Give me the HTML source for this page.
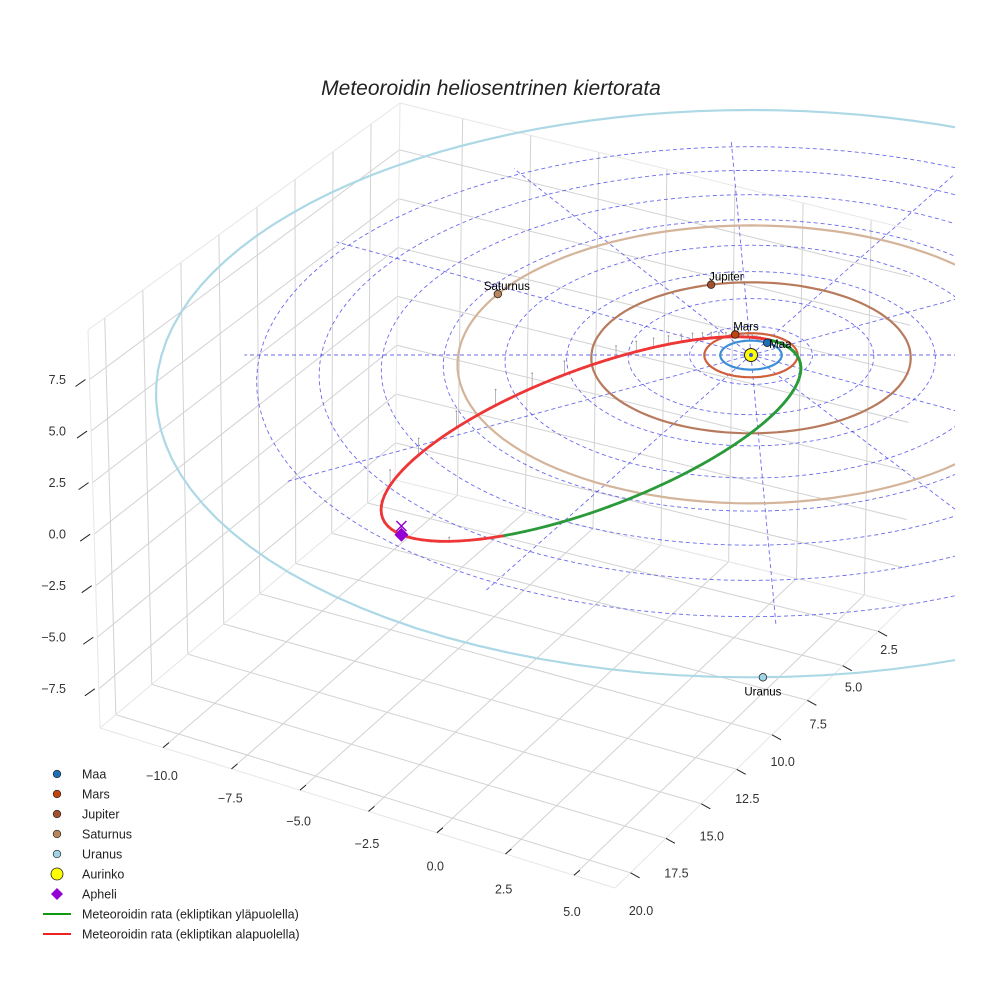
<!DOCTYPE html>
<html><head><meta charset="utf-8"><style>
html,body{margin:0;padding:0;background:#fff}
svg{display:block;font-family:"Liberation Sans",sans-serif}
</style></head><body>
<svg id="c" width="984" height="984" viewBox="0 0 984 984" xmlns="http://www.w3.org/2000/svg">
<text x="491" y="95" text-anchor="middle" font-size="21" font-style="italic" fill="#222">Meteoroidin heliosentrinen kiertorata</text>
<defs><clipPath id="clp"><rect x="0" y="0" width="955" height="984"/></clipPath></defs>
<g id="box"></g>
<g id="eclip" clip-path="url(#clp)"></g>
<g id="legend"></g>
</svg>
<script>
// ---- data ----
const xTicks=[-10,-7.5,-5,-2.5,0,2.5,5];
const yTicks=[2.5,5,7.5,10,12.5,15,17.5,20];
const zTicks=[-7.5,-5,-2.5,0,2.5,5,7.5];
const planetNames=['Maa','Mars','Jupiter','Saturnus','Uranus'];
const planetRadius=[1.0,1.52,5.2,9.54,19.2];
const planetAngle=[-58,-110,-105,-153,89];
const gridRadii=[2,4,6,8,10,12,14,16];
const gridAngles=[0,30,58,87.5,118,150,180,210,239,267.5,298,330];
const meteorQ=[1.2];          // perihelion distance (AU)
const meteorE=[0.853];        // eccentricity
const meteorPeri=[-46];       // perihelion longitude (deg)
const meteorNode=[123];       // node longitude (deg)
const meteorIncl=[8];         // inclination (deg)

const svg=document.getElementById('c');
const NS='http://www.w3.org/2000/svg';
function mk(tag,attrs,parent){const e=document.createElementNS(NS,tag);for(const k in attrs)e.setAttribute(k,attrs[k]);(parent||svg).appendChild(e);return e;}
const lerp=(a,b,t)=>[a[0]+(b[0]-a[0])*t,a[1]+(b[1]-a[1])*t];

// ---- box axes ----
const xmin=-12.3,xmax=6.5,ymin=0.6,ymax=21.1,zmin=-9.4,zmax=9.9;
const FL=[100,728],FC=[615,888],BR=[905,605],BL=[395,480],FLt=[88,330],BLt=[400,103],BRt=[912,230];
const sx=x=>(x-xmin)/(xmax-xmin), ty=y=>(ymax-y)/(ymax-ymin), tz=z=>(z-zmin)/(zmax-zmin);
function floorP(x,y){return lerp(lerp(FL,FC,sx(x)),lerp(BL,BR,sx(x)),ty(y));}
function leftP(y,z){return lerp(lerp(FL,BL,ty(y)),lerp(FLt,BLt,ty(y)),tz(z));}
function backP(x,z){return lerp(lerp(BL,BR,sx(x)),lerp(BLt,BRt,sx(x)),tz(z));}
const box=document.getElementById('box');
function ln(a,b,col,w,name){const e=mk('line',{x1:a[0],y1:a[1],x2:b[0],y2:b[1],stroke:col,'stroke-width':w},box);

return e;}
const gc='#d2d2d2';
xTicks.forEach(x=>{ln(floorP(x,ymax),floorP(x,ymin),gc,1,'x-gridline');ln(backP(x,zmin),backP(x,zmax),gc,1,'x-gridline');});
yTicks.forEach(y=>{ln(floorP(xmin,y),floorP(xmax,y),gc,1,'y-gridline');ln(leftP(y,zmin),leftP(y,zmax),gc,1,'y-gridline');});
zTicks.forEach(z=>{ln(leftP(ymax,z),leftP(ymin,z),gc,1,'z-gridline');ln(backP(xmin,z),backP(xmax,z),gc,1,'z-gridline');});
[[FL,FC],[FC,BR],[FL,FLt],[FLt,BLt],[BLt,BRt],[BL,BLt],[FL,BL],[BL,BR]].forEach(p=>ln(p[0],p[1],'#e6e6e6',1,'pane-edge'));
const lab=(x,y,t,anchor,name)=>{const e=mk('text',{x:x,y:y,'font-size':12.5,fill:'#333','text-anchor':anchor},box);e.textContent=t;

};
const fmt=v=>(v<0?'\u2212':'')+Math.abs(v).toFixed(1);
xTicks.forEach(x=>{const p=floorP(x,ymax);ln(p,[p[0]+6,p[1]-5],'#222',1,'x-tick');
 const f=(x+10)/15;const L=lerp([162,776],[572,912],f);lab(L[0],L[1]+4,fmt(x),'middle','x-tick-label');});
yTicks.forEach(y=>{const p=floorP(xmax,y);ln(p,[p[0]+9,p[1]+5],'#222',1,'y-tick');
 const f=(y-2.5)/17.5;const L=lerp([889,650],[641,911],f);lab(L[0],L[1]+4,fmt(y),'middle','y-tick-label');});
zTicks.forEach(z=>{const p=leftP(ymax,z);ln([p[0]-14,p[1]+7],[p[0]-4,p[1]],'#222',1,'z-tick');
 const f=(z+7.5)/15;const L=lerp([66,689],[66,380],f);lab(L[0],L[1]+4,fmt(z),'end','z-tick-label');});

// ---- ecliptic projection ----
const CX=751,CY=355,HS=30.7,VS=14.5,ZS=20,K=0.0071;
function proj(u,v,z){const f=1/(1-K*v);return [CX+HS*u*f,CY+VS*v*f-ZS*z*f];}
const ec=document.getElementById('eclip');
const rad=d=>d*Math.PI/180;
function circlePts(r){const p=[];for(let a=0;a<=360;a+=3)p.push(proj(r*Math.cos(rad(a)),r*Math.sin(rad(a)),0));return p;}
const pstr=p=>p.map(q=>q[0].toFixed(1)+','+q[1].toFixed(1)).join(' ');
gridRadii.forEach(r=>{const e=mk('polyline',{points:pstr(circlePts(r)),fill:'none',stroke:'#3a3ae6','stroke-opacity':0.75,'stroke-width':0.9,'stroke-dasharray':'4,3'},ec);

});
const gMax=gridRadii[gridRadii.length-1]+0.5;
gridAngles.forEach(a=>{const p=proj(gMax*Math.cos(rad(a)),gMax*Math.sin(rad(a)),0);const e=mk('line',{x1:CX,y1:CY,x2:p[0],y2:p[1],stroke:'#3a3ae6','stroke-opacity':0.75,'stroke-width':0.9,'stroke-dasharray':'4,3'},ec);

});
const ringCol=['#3c8fd6','#d0603c','#b87a5c','#d4b49a','#add8e6'];
const dotCol=['#1f6fb4','#c1440e','#a0522d','#b8865a','#9fd4e6'];
planetRadius.forEach((r,i)=>{const e=mk('polyline',{points:pstr(circlePts(r)),fill:'none',stroke:ringCol[i],'stroke-width':2.2},ec);

});

// meteor orbit
const q=meteorQ[0],ecc=meteorE[0],pl=meteorPeri[0],nd=meteorNode[0],inc=rad(meteorIncl[0]);
const pp=q*(1+ecc);
const pts=[];
for(let nu=-180;nu<=180;nu+=1){const r=pp/(1+ecc*Math.cos(rad(nu)));const phi=pl+nu;
 const z=-r*Math.sin(inc)*Math.sin(rad(phi-nd));pts.push({u:r*Math.cos(rad(phi)),v:r*Math.sin(rad(phi)),z:z});}
pts.forEach((p,i)=>{if(i%6!==0||p.z>=0)return;const a=proj(p.u,p.v,p.z),b=proj(p.u,p.v,0);
 const e=mk('line',{x1:a[0],y1:a[1],x2:b[0],y2:b[1],stroke:'#999','stroke-width':0.7},ec);
 
 
 const d=mk('circle',{cx:b[0],cy:b[1],r:0.9,fill:'#999'},ec);
 
 });
for(let i=0;i<pts.length-1;i++){const a=pts[i],b=pts[i+1];const up=(a.z+b.z)/2>=0;
 const A=proj(a.u,a.v,a.z),B=proj(b.u,b.v,b.z);
 const e=mk('line',{x1:A[0],y1:A[1],x2:B[0],y2:B[1],stroke:up?'#2a9a3a':'#ee3636','stroke-width':2.8,'stroke-linecap':'round'},ec);
 
 }
const Q=pp/(1-ecc),aphPhi=pl+180;const au=Q*Math.cos(rad(aphPhi)),av=Q*Math.sin(rad(aphPhi)),az=-Q*Math.sin(inc)*Math.sin(rad(aphPhi-nd));
const AP=proj(au,av,az),AX=proj(au,av,0);
let e=mk('path',{d:`M${AX[0]-5},${AX[1]-5}L${AX[0]+5},${AX[1]+5}M${AX[0]-5},${AX[1]+5}L${AX[0]+5},${AX[1]-5}`,stroke:'#9400d3','stroke-width':1.5},ec);


e=mk('path',{d:`M${AP[0]},${AP[1]-7}L${AP[0]+7},${AP[1]}L${AP[0]},${AP[1]+7}L${AP[0]-7},${AP[1]}Z`,fill:'#9400d3'},ec);


e=mk('circle',{cx:CX,cy:CY,r:6.5,fill:'#ffff00',stroke:'#222','stroke-width':1},ec);


e=mk('circle',{cx:CX,cy:CY,r:2,fill:'#3b5bd6'},ec);


const labOff=[[2,5,'start'],[-2,-4,'start'],[-2,-4,'start'],[-14,-4,'start'],[0,18,'middle']];
planetRadius.forEach((r,i)=>{const p=proj(r*Math.cos(rad(planetAngle[i])),r*Math.sin(rad(planetAngle[i])),0);
 const c=mk('circle',{cx:p[0],cy:p[1],r:3.8,fill:dotCol[i],stroke:'#222','stroke-width':0.8},ec);
 
 
 const t=mk('text',{x:p[0]+labOff[i][0],y:p[1]+labOff[i][1],'font-size':11.5,fill:'#000','text-anchor':labOff[i][2]},ec);t.textContent=planetNames[i];
 
 });

// ---- legend ----
const lg=document.getElementById('legend');
const legNames=['Maa','Mars','Jupiter','Saturnus','Uranus','Aurinko','Apheli','Meteoroidin rata (ekliptikan yläpuolella)','Meteoroidin rata (ekliptikan alapuolella)'];
legNames.forEach((n,i)=>{const y=774+i*20;let m;
 if(i<5){m=mk('circle',{cx:57,cy:y,r:3.8,fill:dotCol[i],stroke:'#222','stroke-width':0.7},lg);}
 else if(i===5){m=mk('circle',{cx:57,cy:y,r:6,fill:'#ffff00',stroke:'#222','stroke-width':0.8},lg);}
 else if(i===6){m=mk('path',{d:`M57,${y-6}L63,${y}L57,${y+6}L51,${y}Z`,fill:'#9400d3'},lg);}
 else {m=mk('line',{x1:43,y1:y,x2:71,y2:y,stroke:i===7?'#119911':'#ee2222','stroke-width':2},lg);}
 
 
 const t=mk('text',{x:82,y:y+4.5,'font-size':12.5,fill:'#222'},lg);t.textContent=n;
 
 });
</script>
</body></html>
